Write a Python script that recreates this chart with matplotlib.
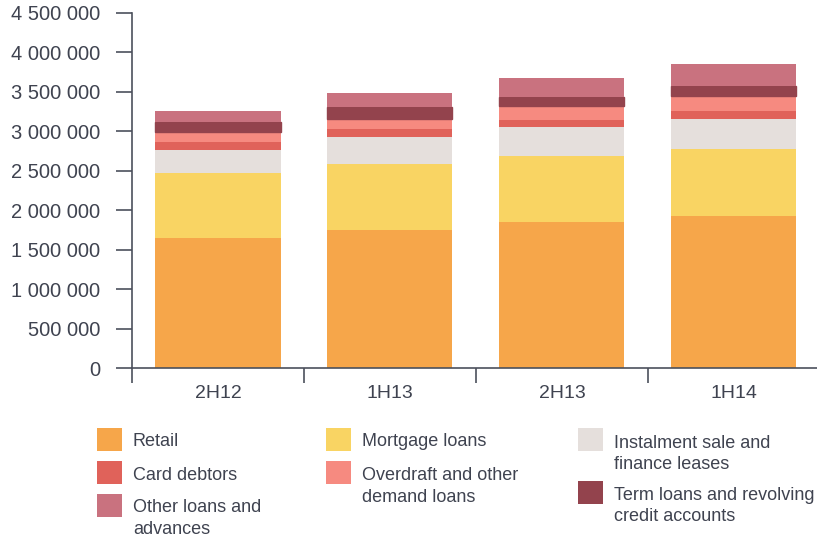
import matplotlib
matplotlib.use("Agg")
import matplotlib.pyplot as plt
from matplotlib.patches import Rectangle
from matplotlib.ticker import FuncFormatter, FixedLocator
import numpy as np

plt.rcParams["font.family"] = ["Liberation Sans", "DejaVu Sans"]

periods = ["2H12", "1H13", "2H13", "1H14"]

retail = [1645000, 1750000, 1848000, 1925000]
mortgage = [830000, 836000, 839000, 845000]
instalment = [288000, 338000, 363000, 390000]
card = [105000, 101000, 92000, 97000]
overdraft = [123000, 130000, 177000, 185000]
term = [123000, 148000, 118000, 135000]
other = [147000, 185000, 233000, 270000]

labels = [
    "Retail",
    "Mortgage loans",
    "Instalment sale and\nfinance leases",
    "Card debtors",
    "Overdraft and other\ndemand loans",
    "Term loans and revolving\ncredit accounts",
    "Other loans and\nadvances",
]
colors = ["#F6A64A", "#F9D463", "#E5DFDC", "#E0625A", "#F68A80", "#93434D", "#C9727F"]
series = [retail, mortgage, instalment, card, overdraft, term, other]

W, H = 817, 540
ink = "#4b505c"
text_col = "#3f4350"

fig = plt.figure(figsize=(W / 100, H / 100), dpi=100)
ax = fig.add_axes([132 / W, 1 - 368.3 / H, (W - 132) / W, (368.3 - 12.7) / H])

x = np.arange(len(periods))
bottom = np.zeros(len(periods))
for vals, col in zip(series, colors):
    lw = 1.0 if col == "#93434D" else 0
    ax.bar(x, vals, width=0.727, bottom=bottom, color=col, edgecolor=col, linewidth=lw)
    bottom += np.array(vals)

ax.set_xlim(-0.5, 3.483)
ax.set_ylim(0, 4500000)
ax.set_yticks(np.arange(0, 4500001, 500000))
ax.yaxis.set_major_formatter(FuncFormatter(lambda v, p: f"{v:,.0f}".replace(",", " ")))

ax.set_xticks(x)
ax.set_xticklabels(periods)
ax.xaxis.set_minor_locator(FixedLocator([-0.5, 0.5, 1.5, 2.5, 3.5]))

for s in ["top", "right"]:
    ax.spines[s].set_visible(False)
for s in ["left", "bottom"]:
    ax.spines[s].set_color(ink)
    ax.spines[s].set_linewidth(1.2)

ax.tick_params(axis="y", length=11.5, width=1.2, color=ink, pad=11.5,
               labelsize=14.5, labelcolor=text_col)
ax.tick_params(axis="x", which="major", length=0, pad=12, labelsize=14, labelcolor=text_col)
ax.tick_params(axis="x", which="minor", length=10.8, width=1.2, color=ink)


def fx(px):
    return px / W


def fy(py):
    return 1 - py / H


# legend in three columns under the chart: (patch left, patch top, first baseline)
legend_pos = {
    "Retail": (97, 428, 447),
    "Card debtors": (97, 461, 481),
    "Other loans and\nadvances": (97, 494, 513),
    "Mortgage loans": (326, 428, 447),
    "Overdraft and other\ndemand loans": (326, 461, 481),
    "Instalment sale and\nfinance leases": (578, 428, 448),
    "Term loans and revolving\ncredit accounts": (578, 481, 500),
}
for lab, col in zip(labels, colors):
    px, ptop, base = legend_pos[lab]
    fig.add_artist(Rectangle((fx(px), fy(ptop + 23)), 25 / W, 23 / H,
                             transform=fig.transFigure, color=col, linewidth=0))
    fig.text(fx(px + 36), fy(base - 13.5), lab, fontsize=13, color=text_col,
             va="top", ha="left", linespacing=1.32)

fig.savefig("out.png", dpi=100)
